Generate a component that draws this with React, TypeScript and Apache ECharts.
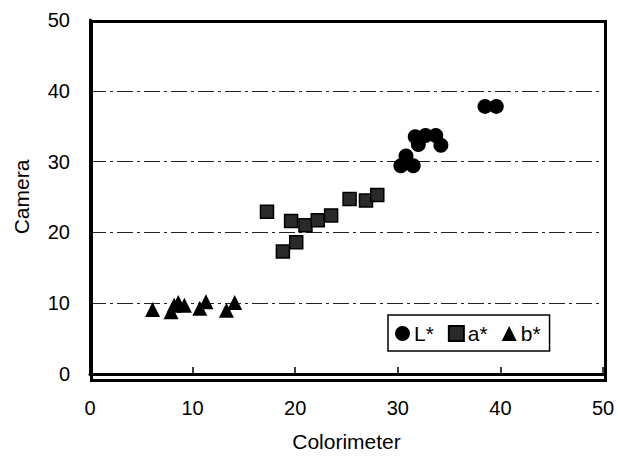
import React, { useEffect, useRef } from "react";
import * as echarts from "echarts";

const lStar: number[][] = [
  [30.3, 29.4], [30.8, 30.8], [31.5, 29.4], [31.7, 33.5], [32.0, 32.4],
  [32.7, 33.7], [33.7, 33.7], [34.2, 32.3], [38.5, 37.8], [39.6, 37.8],
];
const aStar: number[][] = [
  [17.25, 22.9], [18.8, 17.3], [19.6, 21.6], [20.1, 18.6], [21.0, 21.0],
  [22.2, 21.7], [23.5, 22.4], [25.3, 24.7], [26.9, 24.5], [28.0, 25.3],
];
const bStar: number[][] = [
  [6.1, 9.1], [7.9, 8.8], [8.2, 9.7], [8.6, 10.1], [9.2, 9.7],
  [10.7, 9.3], [11.3, 10.2], [13.3, 9.0], [14.1, 10.1],
];
const seriesNames = ["L*", "a*", "b*"];
const font = "'Liberation Sans', Arial, sans-serif";

export default function App() {
  const ref = useRef<HTMLDivElement>(null);
  useEffect(() => {
    document.body.style.margin = "0";
    document.body.style.overflow = "hidden";
    if (!ref.current) return;
    const chart = echarts.init(ref.current, null, { renderer: "svg" });
    chart.setOption({
      animation: false,
      backgroundColor: "#fff",
      grid: { left: 90, right: 15, top: 20, bottom: 79, containLabel: false },
      legend: {
        left: 388,
        top: 315,
        itemGap: 14,
        itemWidth: 15,
        itemHeight: 15,
        padding: [8, 9, 7, 7],
        borderColor: "#000",
        borderWidth: 1.5,
        backgroundColor: "#fff",
        textStyle: { fontFamily: font, fontSize: 21, color: "#000", padding: [0, 0, 0, -1] },
        data: seriesNames,
      },
      xAxis: {
        type: "value",
        min: 0,
        max: 50,
        interval: 10,
        name: "Colorimeter",
        nameLocation: "middle",
        nameGap: 57,
        nameTextStyle: { fontFamily: font, fontSize: 21, color: "#000" },
        axisLine: { show: true, onZero: false, lineStyle: { color: "#000", width: 3 } },
        axisTick: { show: true, inside: true, length: 7, lineStyle: { color: "#000", width: 1.5 } },
        axisLabel: { fontFamily: font, fontSize: 20, color: "#000", margin: 24 },
        splitLine: { show: false },
      },
      yAxis: {
        type: "value",
        min: 0,
        max: 50,
        interval: 10,
        name: "Camera",
        nameLocation: "middle",
        nameGap: 58,
        nameTextStyle: { fontFamily: font, fontSize: 21, color: "#000" },
        axisLine: { show: true, onZero: false, lineStyle: { color: "#000", width: 3 } },
        axisTick: { show: false },
        axisLabel: { fontFamily: font, fontSize: 20, color: "#000", margin: 20 },
        splitLine: { show: true, lineStyle: { color: "#222", width: 1, type: [16, 4, 3, 4] } },
      },
      graphic: [
        {
          type: "rect",
          left: 89,
          top: 19,
          shape: { width: 514, height: 359 },
          style: { fill: "none", stroke: "#000", lineWidth: 3 },
          silent: true,
          z: 10,
        },
      ],
      series: [
        {
          name: "L*",
          type: "scatter",
          data: lStar,
          symbol: "circle",
          symbolSize: 15,
          itemStyle: { color: "#000", opacity: 1 },
        },
        {
          name: "a*",
          type: "scatter",
          data: aStar,
          symbol: "rect",
          symbolSize: 13,
          itemStyle: { color: "#2a2a2a", borderColor: "#000", borderWidth: 1.5, opacity: 1 },
        },
        {
          name: "b*",
          type: "scatter",
          data: bStar,
          symbol: "triangle",
          symbolSize: 15,
          itemStyle: { color: "#000", opacity: 1 },
        },
      ],
    });
    return () => chart.dispose();
  }, []);
  return <div ref={ref} style={{ width: 618, height: 457 }} />;
}
